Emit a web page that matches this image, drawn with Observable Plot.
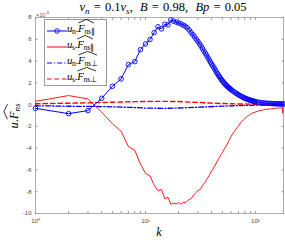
<!DOCTYPE html>
<html><head><meta charset="utf-8">
<script src="https://cdn.jsdelivr.net/npm/d3@7"></script>
<script src="https://cdn.jsdelivr.net/npm/@observablehq/plot@0.6"></script>
<style>
body{margin:0;background:#fff;}
#wrap{position:relative;width:285px;height:244px;overflow:hidden;font-family:"Liberation Serif",serif;}
.math{font-family:"Liberation Serif",serif;color:#000;white-space:nowrap;}
.math i{font-style:italic;}
.math sub{font-size:72%;vertical-align:-0.3em;line-height:0;}
.hat{position:relative;display:inline-block;}
.hat svg{position:absolute;left:0;top:-3px;width:100%;height:4px;overflow:visible;}
#title{position:absolute;left:163px;top:0px;font-size:12.5px;transform:translateX(-50%);}
#ylab{position:absolute;left:14px;top:116px;font-size:12.5px;transform:translate(-50%,-50%) rotate(-90deg);}
#xlab{position:absolute;left:159px;top:232px;font-size:12px;transform:translate(-50%,-50%);}
#exp{position:absolute;left:36px;top:10px;font-family:"Liberation Sans",sans-serif;font-size:5.5px;color:#555;}
#legend{position:absolute;left:44px;top:19px;width:61px;height:65px;border:1px solid #999;background:#fff;}
.entry{position:absolute;left:0;height:16px;width:61px;}
.entry svg.sample{position:absolute;left:2px;top:0;}
.entry .lt{position:absolute;left:22px;top:0px;font-size:10.8px;letter-spacing:-0.3px;}
</style></head>
<body><div id="wrap"></div>
<script>
// ---------- data ----------
const kBlue = [1,2,3,4,5,6,7,8,9,10,11,12,13,14,15,16,17,18,19,20,21,22,23,24,25,26,27,28,29,30,
  31,32,33,34,35,36,37,38,39,40,41,42,43,44,45,46,47,48,49,50,51,52,53,54,55,56,57,58,59,60,
  62,64,66,68,70,72,74,76,78,80,82,84,86,88,90,92,94,96,98,100,
  105,110,115,120,125,130,135,140,145,150,155,160,165,170,175,180];
const unFpar = [-0.34,-0.83,-0.55,0.58,1.68,2.36,3.68,3.95,5.05,5.57,
  5.98,6.62,7.15,6.95,7.38,7.32,7.78,7.66,7.58,7.5,
  7.42,7.3,7.2,7.05,6.85,6.62,6.42,6.22,6.0,5.8,
  5.58,5.38,5.15,4.92,4.72,4.52,4.3,4.1,3.9,3.72,
  3.55,3.38,3.2,3.02,2.86,2.71,2.57,2.44,2.31,2.19,
  2.08,1.98,1.88,1.8,1.72,1.64,1.57,1.5,1.44,1.38,
  1.27,1.17,1.08,0.99,0.91,0.84,0.77,0.71,0.65,0.6,0.55,0.51,0.47,0.43,0.4,0.37,0.34,0.31,0.29,0.27,
  0.23,0.2,0.17,0.15,0.13,0.12,0.11,0.1,0.09,0.08,0.08,0.07,0.07,0.06,0.06,0.05];

const kRed = [1,2,3,4,5,6,7,8,9,10,11,12,13,14,15,16,17,18,19,20,21,22,23,24,25,26,27,28,29,30,
  31,32,33,34,35,36,37,38,39,40,41,42,43,44,45,46,47,48,49,50,
  52,54,56,58,60,62,64,66,68,70,72,74,76,78,80,82,84,86,88,90,
  95,100,105,110,115,120,125,130,135,140,145,150,155,160,165,170,175,177,179];
const usFpar = [0.3,0.83,0.52,-0.7,-1.75,-2.45,-3.85,-4.2,-5.45,-6.3,
  -6.55,-7.4,-7.9,-7.8,-8.65,-8.5,-9.15,-9.05,-9.12,-9.0,
  -9.15,-8.98,-9.0,-8.85,-8.72,-8.65,-8.4,-8.2,-8.05,-7.88,
  -7.82,-7.7,-7.42,-7.25,-7.12,-6.88,-6.68,-6.5,-6.28,-6.1,
  -5.92,-5.72,-5.56,-5.36,-5.2,-5.02,-4.86,-4.7,-4.56,-4.42,
  -4.12,-3.82,-3.52,-3.22,-2.92,-2.7,-2.5,-2.3,-2.12,-1.95,-1.78,-1.62,-1.5,-1.38,-1.27,-1.18,-1.1,-1.02,-0.95,-0.88,
  -0.76,-0.68,-0.61,-0.55,-0.51,-0.47,-0.44,-0.42,-0.4,-0.38,-0.36,-0.34,-0.33,-0.32,-0.31,-0.3,-0.3,-0.78,-0.05];

const kPerp = [1,2,3,5,8,10,15,20,30,37,50,70,100,140,180];
const unFperp = [-0.1,-0.15,-0.16,-0.2,-0.27,-0.32,-0.34,-0.31,-0.24,-0.2,-0.14,-0.09,-0.05,-0.03,0.0];
const usFperp = [0.08,0.13,0.16,0.22,0.27,0.29,0.3,0.28,0.2,0.15,0.1,0.06,0.04,0.02,0.0];

const yTicks = [-10,-8,-6,-4,-2,0,2,4,6,8];
const xMajor = [1,10,100];
const xMajorLabels = ["10\u2070","10\u00b9","10\u00b2"];
const xMinor = [1,2,3,4,5,6,7,8,9,10,20,30,40,50,60,70,80,90,100];

// ---------- build ----------
const blue = kBlue.map((k,i)=>({k, v: unFpar[i]}));
const red = kRed.map((k,i)=>({k, v: usFpar[i]}));
const bperp = kPerp.map((k,i)=>({k, v: unFperp[i]}));
const rperp = kPerp.map((k,i)=>({k, v: usFperp[i]}));
const axisGray = "#999";

const chart = Plot.plot({
  width: 285, height: 244,
  marginLeft: 35, marginRight: 2, marginTop: 17, marginBottom: 31,
  style: {background: "white", overflow: "visible", fontFamily: "Liberation Sans, sans-serif"},
  x: {type: "log", domain: [1, 180]},
  y: {domain: [-10, 8]},
  marks: [
    Plot.frame({stroke: axisGray, strokeWidth: 0.8}),
    Plot.axisY({anchor: "left", ticks: yTicks, tickSize: 0, tickPadding: 4, fontSize: 6, fill: "#444", tickFormat: d => String(d), label: null}),
    Plot.axisY({anchor: "left", ticks: yTicks, tickSize: -2.5, text: null, stroke: axisGray, label: null}),
    Plot.axisY({anchor: "right", ticks: yTicks, tickSize: -2.5, text: null, stroke: axisGray, label: null}),
    Plot.axisX({anchor: "bottom", ticks: xMajor, tickSize: 0, tickPadding: 5, fontSize: 6, fill: "#444", tickFormat: d => xMajorLabels[xMajor.indexOf(d)], label: null}),
    Plot.axisX({anchor: "bottom", ticks: xMinor, tickSize: -2, text: null, stroke: axisGray, label: null}),
    Plot.axisX({anchor: "top", ticks: xMinor, tickSize: -2, text: null, stroke: axisGray, label: null}),
    Plot.line(bperp, {x: "k", y: "v", stroke: "#0000ff", strokeWidth: 1.3, strokeDasharray: "5,2,1.2,2"}),
    Plot.line(rperp, {x: "k", y: "v", stroke: "#ff0000", strokeWidth: 1.4, strokeDasharray: "4.5,3"}),
    Plot.line(red, {x: "k", y: "v", stroke: "#ff0000", strokeWidth: 0.9}),
    Plot.line(blue, {x: "k", y: "v", stroke: "#0000ff", strokeWidth: 1}),
    Plot.dot(blue, {x: "k", y: "v", r: 2.3, stroke: "#0000ff", fill: "none", strokeWidth: 0.9})
  ]
});
const wrap = document.getElementById("wrap");
chart.style.position = "absolute"; chart.style.left = "0"; chart.style.top = "0";
wrap.appendChild(chart);

const hatSvg = '<svg viewBox="0 0 100 10" preserveAspectRatio="none"><polyline points="2,10 50,1 98,10" fill="none" stroke="#000" stroke-width="0.8" vector-effect="non-scaling-stroke"/></svg>';
function term(a, sub){ return `<i>u</i><sub>${a}</sub>.<span class="hat">${hatSvg}<i>F</i><sub><i>ns</i>${sub}</sub></span>`; }

const title = document.createElement("div");
title.id = "title"; title.className = "math";
title.innerHTML = '<i>\u03bd<sub>n</sub></i>&#8196;=&#8196;0.1<i>\u03bd<sub>s</sub></i>,&nbsp;&#8196;<i>B</i>&#8196;=&#8196;0.98,&nbsp;&#8196;<i>Bp</i>&#8196;=&#8196;0.05';
wrap.appendChild(title);

const ylab = document.createElement("div");
ylab.id = "ylab"; ylab.className = "math";
ylab.innerHTML = '<i>u</i>.<span class="hat">' + hatSvg + '<i>F</i><sub><i>ns</i></sub></span>';
wrap.appendChild(ylab);

const xlab = document.createElement("div");
xlab.id = "xlab"; xlab.className = "math";
xlab.innerHTML = '<i>k</i>';
wrap.appendChild(xlab);

const ex = document.createElement("div");
ex.id = "exp"; ex.innerHTML = "\u00d710<sup style='font-size:80%'>-6</sup>";
wrap.appendChild(ex);

const legendItems = [
  {color: "#0000ff", dash: null, marker: true, html: term("n", "\u2225")},
  {color: "#ff0000", dash: null, marker: false, html: term("s", "\u2225")},
  {color: "#0000ff", dash: "5,2,1.2,2", marker: false, html: term("n", "\u22a5")},
  {color: "#ff0000", dash: "4.5,3", marker: false, html: term("s", "\u22a5")}
];
const leg = document.createElement("div");
leg.id = "legend";
legendItems.forEach((it, i) => {
  const e = document.createElement("div");
  e.className = "entry"; e.style.top = (2 + i*16) + "px";
  e.innerHTML = `<svg class="sample" width="21" height="16"><line x1="0" y1="9" x2="20" y2="9" stroke="${it.color}" stroke-width="1" ${it.dash ? `stroke-dasharray="${it.dash}"` : ""}/>${it.marker ? `<circle cx="10" cy="9" r="2.3" fill="none" stroke="${it.color}" stroke-width="0.9"/>` : ""}</svg><span class="lt math">${it.html}</span>`;
  leg.appendChild(e);
});
wrap.appendChild(leg);
</script></body></html>
